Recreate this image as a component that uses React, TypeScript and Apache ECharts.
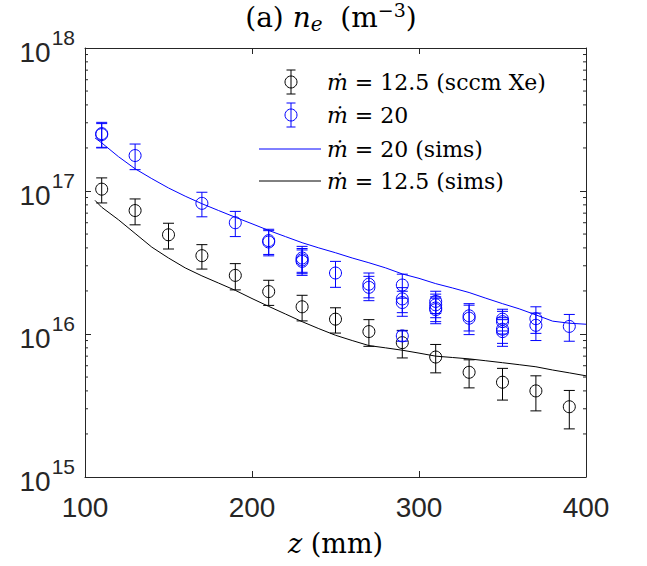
import React, { useEffect, useRef } from "react";
import * as echarts from "echarts";

// ---- data ----
const blackZ = [110, 130, 150, 170, 190, 210, 230, 250, 270, 290, 310, 330, 350, 370, 390];
const blackN = [1.03e17, 7.3e16, 4.94e16, 3.53e16, 2.57e16, 1.98e16, 1.55e16, 1.27e16, 1.04e16, 8.7e15, 6.9e15, 5.4e15, 4.6e15, 4.0e15, 3.1e15];
const blackErr = [2.05e16, 1.5e16, 1.01e16, 6.85e15, 5.35e15, 3.95e15, 3.15e15, 2.55e15, 2.2e15, 1.9e15, 1.55e15, 1.2e15, 1.15e15, 1.1e15, 9.3e14];

const blueZ = [110, 110, 130, 170, 190, 210, 210, 230, 230, 230, 250, 270, 270, 290, 290, 290, 290, 310, 310, 310, 310, 330, 330, 350, 350, 350, 350, 370, 370, 390];
const blueN = [2.48e17, 2.52e17, 1.77e17, 8.2e16, 6.0e16, 4.4e16, 4.5e16, 3.4e16, 3.3e16, 3.22e16, 2.67e16, 2.23e16, 2.12e16, 2.2e16, 1.76e16, 1.66e16, 9.7e15, 1.69e16, 1.6e16, 1.52e16, 1.48e16, 1.34e16, 1.29e16, 1.27e16, 1.22e16, 1.08e16, 1.04e16, 1.28e16, 1.15e16, 1.13e16];
const blueErr = [4.8e16, 5.0e16, 3.6e16, 1.6e16, 1.2e16, 8.8e15, 9.0e15, 7.0e15, 6.6e15, 6.5e15, 5.5e15, 4.4e15, 4.1e15, 4.2e15, 3.5e15, 3.3e15, 8.0e14, 3.0e15, 3.0e15, 3.0e15, 3.0e15, 2.9e15, 3.0e15, 2.2e15, 2.2e15, 2.2e15, 2.2e15, 2.7e15, 2.5e15, 2.4e15];

const simZ = [106, 110, 120, 130, 140, 150, 160, 170, 180, 190, 200, 210, 220, 230, 240, 250, 260, 270, 280, 290, 300, 310, 320, 330, 340, 350, 360, 370, 380, 390, 400];
const simBlue = [2.35e17, 2.17e17, 1.74e17, 1.43e17, 1.22e17, 1.05e17, 9.2e16, 8.15e16, 7.3e16, 6.55e16, 5.9e16, 5.3e16, 4.8e16, 4.35e16, 4.0e16, 3.7e16, 3.4e16, 3.15e16, 2.9e16, 2.63e16, 2.45e16, 2.25e16, 2.1e16, 1.95e16, 1.78e16, 1.63e16, 1.5e16, 1.36e16, 1.23e16, 1.19e16, 1.17e16];
const simBlack = [8.6e16, 7.7e16, 6.3e16, 5.05e16, 4.05e16, 3.4e16, 2.9e16, 2.55e16, 2.27e16, 2.02e16, 1.77e16, 1.56e16, 1.38e16, 1.22e16, 1.09e16, 9.8e15, 9.0e15, 8.3e15, 8.0e15, 7.7e15, 7.35e15, 7.0e15, 6.85e15, 6.7e15, 6.5e15, 6.3e15, 6.1e15, 5.9e15, 5.6e15, 5.35e15, 5.1e15];

const xMin = 100;
const xMax = 400;
const xInterval = 100;
const yMin = 1e15;
const yMax = 1e18;
const minorMultipliers = [2, 3, 4, 5, 6, 7, 8, 9];
const minorDecades = [15, 16, 17];

const legendLabels = [
  "{i|ṁ} = 12.5 (sccm Xe)",
  "{i|ṁ} = 20",
  "{i|ṁ} = 20 (sims)",
  "{i|ṁ} = 12.5 (sims)",
];
const titleText = "(a) {i|n}{sub|e}  (m{sup|−3})";
const xName = "{i|z} (mm)";

const BLUE = "#0000ff";
const BLACK = "#000000";
const AXIS = "#262626";
const SERIF = "'DejaVu Serif', 'Liberation Serif', serif";
const SANS = "'Liberation Sans', Arial, sans-serif";

function errorBarRender(color: string) {
  return (params: any, api: any) => {
    const z = api.value(0);
    const v = api.value(1);
    const e = api.value(2);
    const c = api.coord([z, v]);
    const hi = api.coord([z, v + e]);
    const lo = api.coord([z, v - e]);
    const cap = 5.5;
    const ls = { stroke: color, lineWidth: 1, fill: "none" };
    return {
      type: "group",
      children: [
        { type: "line", shape: { x1: c[0], y1: hi[1], x2: c[0], y2: lo[1] }, style: ls },
        { type: "line", shape: { x1: c[0] - cap, y1: hi[1], x2: c[0] + cap, y2: hi[1] }, style: ls },
        { type: "line", shape: { x1: c[0] - cap, y1: lo[1], x2: c[0] + cap, y2: lo[1] }, style: ls },
        { type: "circle", shape: { cx: c[0], cy: c[1], r: 6 }, style: ls },
      ],
    };
  };
}

function minorTickRender(params: any, api: any) {
  const p = api.coord([api.value(0), api.value(1)]);
  const cs = params.coordSys;
  const len = 3;
  const st = { stroke: AXIS, lineWidth: 1 };
  return {
    type: "group",
    children: [
      { type: "line", shape: { x1: cs.x, y1: p[1], x2: cs.x + len, y2: p[1] }, style: st },
      { type: "line", shape: { x1: cs.x + cs.width, y1: p[1], x2: cs.x + cs.width - len, y2: p[1] }, style: st },
    ],
  };
}

function legendIconErr(cx: number, cy: number, color: string) {
  const ls = { stroke: color, lineWidth: 1, fill: "none" };
  return [
    { type: "line", shape: { x1: cx, y1: cy - 12, x2: cx, y2: cy + 12 }, style: ls },
    { type: "line", shape: { x1: cx - 4.5, y1: cy - 12, x2: cx + 4.5, y2: cy - 12 }, style: ls },
    { type: "line", shape: { x1: cx - 4.5, y1: cy + 12, x2: cx + 4.5, y2: cy + 12 }, style: ls },
    { type: "circle", shape: { cx, cy, r: 6 }, style: ls },
  ];
}

export default function App() {
  const ref = useRef<HTMLDivElement>(null);
  useEffect(() => {
    if (!ref.current) return;
    const chart = echarts.init(ref.current, undefined, { renderer: "svg" });

    const blackData = blackZ.map((z, i) => [z, blackN[i], blackErr[i]]);
    const blueData = blueZ.map((z, i) => [z, blueN[i], blueErr[i]]);
    const minorData: number[][] = [];
    minorDecades.forEach((d) => minorMultipliers.forEach((m) => minorData.push([xMin, m * Math.pow(10, d)])));

    const legendTextStyle = (y: number, text: string) => ({
      type: "text",
      x: 327,
      y,
      style: {
        text,
        fontFamily: SERIF,
        fontSize: 22,
        fill: "#000",
        verticalAlign: "middle",
        align: "left",
        rich: { i: { fontStyle: "italic", fontFamily: SERIF, fontSize: 22 } },
      },
    });

    const rowY = [82, 115, 149, 181];

    const option: any = {
      animation: false,
      backgroundColor: "#ffffff",
      grid: { left: 85, top: 48, width: 501, height: 429, containLabel: false },
      xAxis: [
        {
          type: "value",
          min: xMin,
          max: xMax,
          interval: xInterval,
          name: xName,
          nameLocation: "middle",
          nameGap: 53,
          nameTextStyle: {
            fontFamily: SERIF,
            fontSize: 27,
            color: "#000",
            rich: { i: { fontStyle: "italic", fontFamily: SERIF, fontSize: 27 } },
          },
          axisLine: { show: true, lineStyle: { color: AXIS, width: 1 } },
          axisTick: { show: true, inside: true, length: 6, lineStyle: { color: AXIS } },
          axisLabel: { fontFamily: SANS, fontSize: 28, color: AXIS, margin: 16 },
          splitLine: { show: false },
        },
        {
          type: "value",
          position: "top",
          min: xMin,
          max: xMax,
          interval: xInterval,
          axisLine: { show: true, lineStyle: { color: AXIS, width: 1 } },
          axisTick: { show: true, inside: true, length: 6, lineStyle: { color: AXIS } },
          axisLabel: { show: false },
          splitLine: { show: false },
        },
      ],
      yAxis: [
        {
          type: "log",
          logBase: 10,
          min: yMin,
          max: yMax,
          axisLine: { show: true, lineStyle: { color: AXIS, width: 1 } },
          axisTick: { show: true, inside: true, length: 6, lineStyle: { color: AXIS } },
          splitLine: { show: false },
          axisLabel: {
            margin: 10,
            color: AXIS,
            verticalAlign: "middle",
            formatter: (v: number) => "{b|10}{s|" + Math.round(Math.log10(v)) + "}",
            rich: {
              b: { fontFamily: SANS, fontSize: 28, lineHeight: 28, color: AXIS, padding: [9, 0, 0, 0] },
              s: { fontFamily: SANS, fontSize: 21, lineHeight: 21, color: AXIS, padding: [0, 0, 22, 1] },
            },
          },
        },
        {
          type: "log",
          logBase: 10,
          position: "right",
          min: yMin,
          max: yMax,
          axisLine: { show: true, lineStyle: { color: AXIS, width: 1 } },
          axisTick: { show: true, inside: true, length: 6, lineStyle: { color: AXIS } },
          axisLabel: { show: false },
          splitLine: { show: false },
        },
      ],
      series: [
        {
          type: "custom",
          name: "minor",
          renderItem: minorTickRender,
          data: minorData,
          encode: { x: 0, y: 1 },
          silent: true,
          z: 1,
        },
        {
          type: "custom",
          name: "ṁ = 12.5 (sccm Xe)",
          renderItem: errorBarRender(BLACK),
          data: blackData,
          encode: { x: 0, y: 1 },
          z: 2,
        },
        {
          type: "custom",
          name: "ṁ = 20",
          renderItem: errorBarRender(BLUE),
          data: blueData,
          encode: { x: 0, y: 1 },
          z: 3,
        },
        {
          type: "line",
          name: "ṁ = 20 (sims)",
          data: simZ.map((z, i) => [z, simBlue[i]]),
          symbol: "none",
          lineStyle: { color: BLUE, width: 1 },
          itemStyle: { color: BLUE },
          z: 4,
        },
        {
          type: "line",
          name: "ṁ = 12.5 (sims)",
          data: simZ.map((z, i) => [z, simBlack[i]]),
          symbol: "none",
          lineStyle: { color: BLACK, width: 1 },
          itemStyle: { color: BLACK },
          z: 5,
        },
      ],
      graphic: [
        {
          type: "text",
          x: 331,
          y: 0,
          style: {
            text: titleText,
            fontFamily: SERIF,
            fontSize: 28,
            lineHeight: 34,
            fill: "#000",
            align: "center",
            verticalAlign: "top",
            rich: {
              i: { fontStyle: "italic", fontFamily: SERIF, fontSize: 28, lineHeight: 34 },
              sub: { fontStyle: "italic", fontFamily: SERIF, fontSize: 20, lineHeight: 20, verticalAlign: "bottom" },
              sup: { fontFamily: SERIF, fontSize: 19, lineHeight: 19, verticalAlign: "top" },
            },
          },
        },
        ...legendIconErr(291, rowY[0], BLACK),
        ...legendIconErr(291, rowY[1], BLUE),
        { type: "line", shape: { x1: 259, y1: rowY[2], x2: 321, y2: rowY[2] }, style: { stroke: BLUE, lineWidth: 1 } },
        { type: "line", shape: { x1: 259, y1: rowY[3], x2: 321, y2: rowY[3] }, style: { stroke: BLACK, lineWidth: 1 } },
        ...legendLabels.map((t, i) => legendTextStyle(rowY[i], t)),
      ],
    };
    chart.setOption(option);
    return () => chart.dispose();
  }, []);
  return (
    <div
      ref={ref}
      style={{ position: "absolute", left: 0, top: 0, width: 647, height: 566, background: "#fff" }}
    />
  );
}
